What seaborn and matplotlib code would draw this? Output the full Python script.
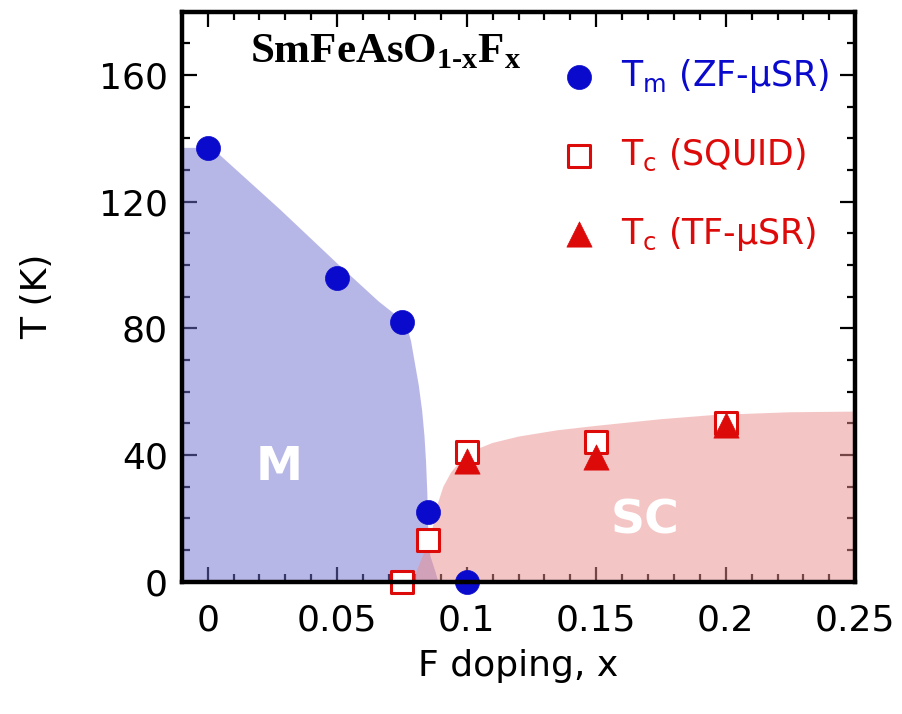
import matplotlib
matplotlib.use("Agg")
import matplotlib.pyplot as plt
import seaborn as sns
import pandas as pd

# ---- data ----
x_tm = [0.0, 0.05, 0.075, 0.085, 0.1]
t_tm = [137, 96, 82, 22, 0]
x_squid = [0.075, 0.085, 0.1, 0.15, 0.2]
t_squid = [0, 13, 41, 44, 50]
x_tf = [0.1, 0.15, 0.2]
t_tf = [38, 39.5, 49.5]

# phase-region boundaries (estimated from the shaded areas)
m_x = [-0.01, 0.0, 0.003, 0.028, 0.05, 0.066, 0.0745, 0.0768, 0.0785, 0.080,
       0.0815, 0.0828, 0.0837, 0.0843, 0.0848, 0.0852, 0.086, 0.088, 0.089]
m_t = [137, 137, 136, 117.5, 100.5, 88.5, 83, 81, 76, 69,
       62, 54, 46, 38, 28, 15, 8, 3, 0]
sc_x = [0.079, 0.081, 0.083, 0.0855, 0.0875, 0.089, 0.091, 0.094, 0.098, 0.103,
        0.11, 0.12, 0.135, 0.15, 0.175, 0.195, 0.225, 0.25]
sc_t = [0, 4, 8, 13, 19, 25, 30, 34.5, 38.5, 41.5,
        43.8, 45.8, 47.8, 49.2, 51.3, 52.6, 53.5, 53.7]

x_ticks = [0, 0.05, 0.1, 0.15, 0.2, 0.25]
x_ticklabels = ["0", "0.05", "0.1", "0.15", "0.2", "0.25"]
y_ticks = [0, 40, 80, 120, 160]

labels = ["T$_{\\mathregular{m}}$ (ZF-\u03bcSR)",
          "T$_{\\mathregular{c}}$ (SQUID)",
          "T$_{\\mathregular{c}}$ (TF-\u03bcSR)"]

BLUE = "#0a0acc"
RED = "#dd0a0a"

sns.set_theme(style="ticks")
plt.rcParams["font.family"] = ["DejaVu Sans"]
plt.rcParams["text.color"] = "black"
plt.rcParams["axes.labelcolor"] = "black"
plt.rcParams["xtick.color"] = "black"
plt.rcParams["ytick.color"] = "black"

fig = plt.figure(figsize=(9.03, 7.14), dpi=100)
ax = fig.add_axes([0.2013, 0.1854, 0.9471 - 0.2013, 0.9836 - 0.1854])

# shaded regions
ax.fill(m_x + [-0.01], m_t + [0], color="#7171d1", alpha=0.5, lw=0, zorder=1)
ax.fill(sc_x + [0.25], sc_t + [0], color="#eb8d8d", alpha=0.5, lw=0, zorder=1)

df_tm = pd.DataFrame({"x": x_tm, "T": t_tm})
df_sq = pd.DataFrame({"x": x_squid, "T": t_squid})
df_tf = pd.DataFrame({"x": x_tf, "T": t_tf})

sns.scatterplot(data=df_tm, x="x", y="T", ax=ax, marker="o", s=300,
                color=BLUE, edgecolor=BLUE, linewidth=0.5, label=labels[0],
                zorder=5, clip_on=False)
sns.scatterplot(data=df_sq, x="x", y="T", ax=ax, marker="s", s=270,
                color="white", edgecolor=RED, linewidth=2.2, label=labels[1],
                zorder=5, clip_on=False)
sns.scatterplot(data=df_tf, x="x", y="T", ax=ax, marker="^", s=330,
                color=RED, edgecolor=RED, linewidth=0.5, label=labels[2],
                zorder=6, clip_on=False)

ax.set_xlim(-0.01, 0.25)
ax.set_ylim(0, 180)
ax.set_xticks(x_ticks)
ax.set_xticklabels(x_ticklabels)
ax.set_yticks(y_ticks)
ax.set_xticks([v / 100 for v in range(-1, 26)], minor=True)
ax.set_yticks(list(range(0, 181, 10)), minor=True)

ax.tick_params(which="both", direction="in", top=True, right=True,
               labelsize=26, colors="black")
ax.tick_params(which="major", length=11, width=1.6, pad=10)
ax.tick_params(which="minor", length=6, width=1.6)
ax.tick_params(axis="x", which="major", pad=16)
for sp in ax.spines.values():
    sp.set_linewidth(3.2)
    sp.set_color("black")
    sp.set_zorder(10)

ax.set_xlabel("F doping, x", fontsize=26, labelpad=8)
ax.set_ylabel("T (K)", fontsize=26, labelpad=32)

ax.text(0.0275, 36, "M", color="white", fontsize=34, fontweight="bold",
        ha="center", va="center", zorder=3)
ax.text(0.169, 19, "SC", color="white", fontsize=34, fontweight="bold",
        ha="center", va="center", zorder=3)

ax.text(0.0165, 164, "SmFeAsO$_{\\mathregular{1\u2010x}}$F$_{\\mathregular{x}}$",
        family="Liberation Serif", fontweight="bold", fontsize=31,
        color="black", ha="left", va="baseline", zorder=7)

leg = ax.legend(loc="upper right", bbox_to_anchor=(0.982, 0.945),
                frameon=False, fontsize=25,
                handletextpad=0.7, labelspacing=1.2, borderaxespad=0.0,
                handlelength=1.0, markerscale=1.0)
for txt, c in zip(leg.get_texts(), [BLUE, RED, RED]):
    txt.set_color(c)

fig.savefig("out.png", dpi=100)
